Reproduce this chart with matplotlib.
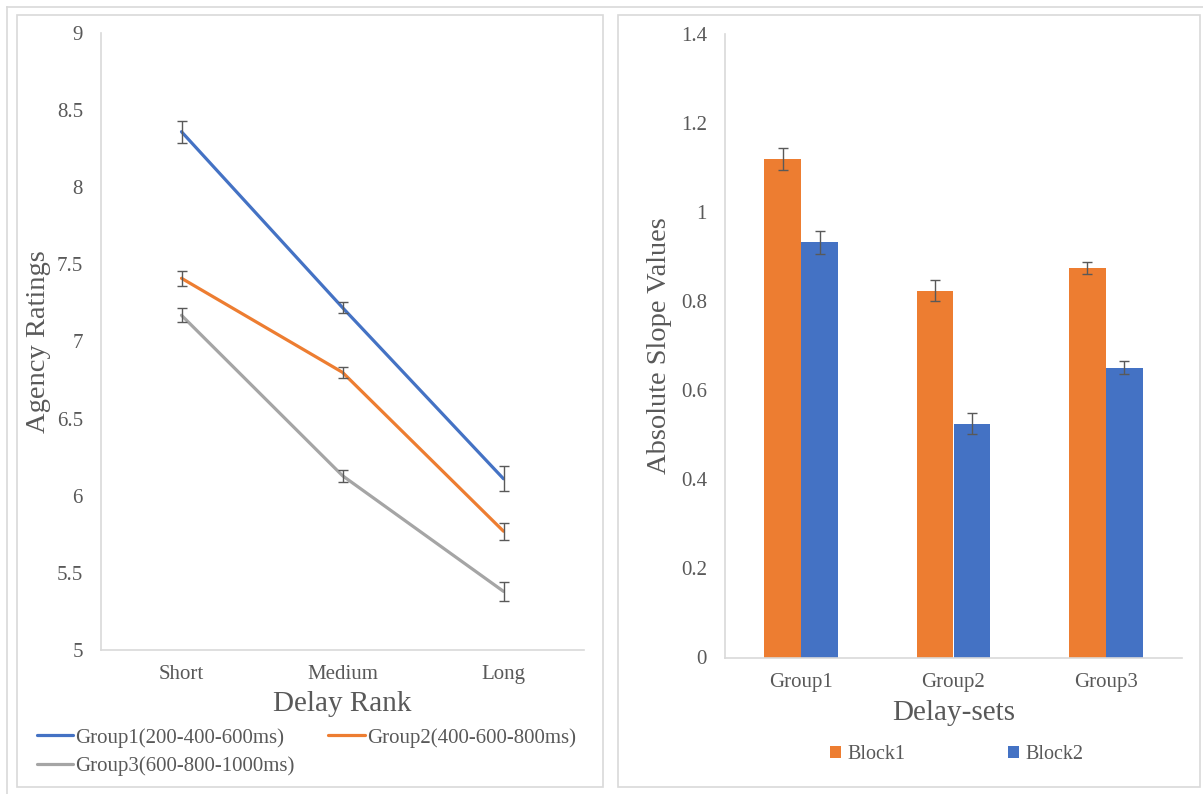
import matplotlib
matplotlib.use("Agg")
import matplotlib.pyplot as plt
import numpy as np
from matplotlib.patches import Rectangle
from matplotlib.lines import Line2D

plt.rcParams['font.family'] = ['Liberation Serif', 'DejaVu Serif']

# ---- data: left panel ----
delay_ranks = ["Short", "Medium", "Long"]
group_labels = ["Group1(200-400-600ms)", "Group2(400-600-800ms)", "Group3(600-800-1000ms)"]
group1_vals = [8.36, 7.22, 6.11]
group2_vals = [7.41, 6.80, 5.77]
group3_vals = [7.17, 6.13, 5.38]
group1_err = [0.07, 0.035, 0.08]
group2_err = [0.05, 0.035, 0.055]
group3_err = [0.045, 0.04, 0.06]
left_yticks = [5, 5.5, 6, 6.5, 7, 7.5, 8, 8.5, 9]

# ---- data: right panel ----
delay_sets = ["Group1", "Group2", "Group3"]
block_labels = ["Block1", "Block2"]
block1_vals = [1.12, 0.824, 0.874]
block2_vals = [0.932, 0.525, 0.651]
block1_err = [0.025, 0.024, 0.014]
block2_err = [0.026, 0.024, 0.014]
right_yticks = [0, 0.2, 0.4, 0.6, 0.8, 1, 1.2, 1.4]

BLUE = "#4472C4"
ORANGE = "#ED7D31"
GRAY = "#A5A5A5"
TXT = "#595959"
SPINE = "#D9D9D9"
ERR = "#595959"

W, H = 1203, 794
fig = plt.figure(figsize=(W / 100, H / 100), dpi=100)

def fx(px):
    return px / W

def fy(py):
    return 1 - py / H

# panel frames
fig.add_artist(Line2D([fx(7), 1], [fy(7), fy(7)], color="#D9D9D9", lw=1.2, transform=fig.transFigure))
fig.add_artist(Line2D([fx(7), fx(7)], [fy(7), 0], color="#D9D9D9", lw=1.2, transform=fig.transFigure))
fig.add_artist(Rectangle((fx(17), fy(787)), fx(603 - 17), (787 - 15) / H, fill=False,
                         edgecolor="#D9D9D9", lw=1.2, transform=fig.transFigure))
fig.add_artist(Rectangle((fx(618), fy(787)), fx(1200 - 618), (787 - 15) / H, fill=False,
                         edgecolor="#D9D9D9", lw=1.2, transform=fig.transFigure))

# ---- left axes ----
ax1 = fig.add_axes([fx(101), fy(650), fx(584 - 101), (650 - 33) / H])
x = np.arange(len(delay_ranks))
series = [(group1_vals, group1_err, BLUE), (group2_vals, group2_err, ORANGE), (group3_vals, group3_err, GRAY)]
handles = []
for (vals, err, col), lab in zip(series, group_labels):
    ln, = ax1.plot(x, vals, color=col, lw=2.3, label=lab, zorder=3, solid_capstyle='round')
    ax1.errorbar(x, vals, yerr=err, fmt='none', ecolor=ERR, elinewidth=1.0, capsize=3.5,
                 capthick=1.0, zorder=4)
    handles.append(ln)
ax1.set_xlim(-0.5, 2.5)
ax1.set_ylim(5, 9)
ax1.set_yticks(left_yticks)
ax1.set_yticklabels([f"{t:g}" for t in left_yticks])
ax1.set_xticks(x)
ax1.set_xticklabels(delay_ranks)

# ---- right axes ----
ax2 = fig.add_axes([fx(725), fy(657.5), fx(1182 - 725), (657.5 - 34) / H])
xb = np.arange(len(delay_sets))
bw = 0.242
b1 = ax2.bar(xb - bw / 2, block1_vals, bw, color=ORANGE, label=block_labels[0], zorder=2)
b2 = ax2.bar(xb + bw / 2, block2_vals, bw, color=BLUE, label=block_labels[1], zorder=2)
ax2.errorbar(xb - bw / 2, block1_vals, yerr=block1_err, fmt='none', ecolor=ERR, elinewidth=1.0,
             capsize=3.5, capthick=1.0, zorder=4)
ax2.errorbar(xb + bw / 2, block2_vals, yerr=block2_err, fmt='none', ecolor=ERR, elinewidth=1.0,
             capsize=3.5, capthick=1.0, zorder=4)
ax2.set_xlim(-0.5, 2.5)
ax2.set_ylim(0, 1.4)
ax2.set_yticks(right_yticks)
ax2.set_yticklabels([f"{t:g}" for t in right_yticks])
ax2.set_xticks(xb)
ax2.set_xticklabels(delay_sets)

for ax in (ax1, ax2):
    for s in ("top", "right"):
        ax.spines[s].set_visible(False)
    for s in ("left", "bottom"):
        ax.spines[s].set_color(SPINE)
        ax.spines[s].set_linewidth(1.2)
    ax.tick_params(axis='both', length=0, labelsize=15, labelcolor=TXT)
    ax.tick_params(axis='y', pad=13)
    ax.tick_params(axis='x', pad=11)
    ax.set_facecolor('none')

# axis labels
ax1.set_ylabel("Agency Ratings", fontsize=20.5, color=TXT)
ax1.yaxis.set_label_coords((39 - 101) / 483, 0.5)
ax1.yaxis.label.set_va('center')
ax1.text(0.5, (650 - 704) / 617, "Delay Rank", transform=ax1.transAxes, ha='center', va='center',
         fontsize=21, color=TXT)

ax2.set_ylabel("Absolute Slope Values", fontsize=20.5, color=TXT)
ax2.yaxis.set_label_coords((660 - 725) / 457, 0.5)
ax2.yaxis.label.set_va('center')
ax2.text(0.5, (657.5 - 713) / 623.5, "Delay-sets", transform=ax2.transAxes, ha='center', va='center',
         fontsize=21, color=TXT)

# legends
leg1 = fig.legend([handles[0], handles[2], handles[1]],
                  [group_labels[0], group_labels[2], group_labels[1]],
                  ncol=2, loc='upper left', bbox_to_anchor=(fx(37), fy(728)),
                  bbox_transform=fig.transFigure, frameon=False, fontsize=15,
                  handlelength=1.75, handletextpad=0.1, columnspacing=1.6,
                  borderpad=0, borderaxespad=0, labelspacing=0.4, labelcolor=TXT)

leg2 = fig.legend([b1, b2], block_labels, ncol=2, loc='upper left',
                  bbox_to_anchor=(fx(830), fy(745)), bbox_transform=fig.transFigure,
                  frameon=False, fontsize=14.5, handlelength=0.55, handleheight=0.55,
                  handletextpad=0.3, columnspacing=5.1, borderpad=0, borderaxespad=0,
                  labelcolor=TXT)

fig.savefig("out.png", dpi=100)
